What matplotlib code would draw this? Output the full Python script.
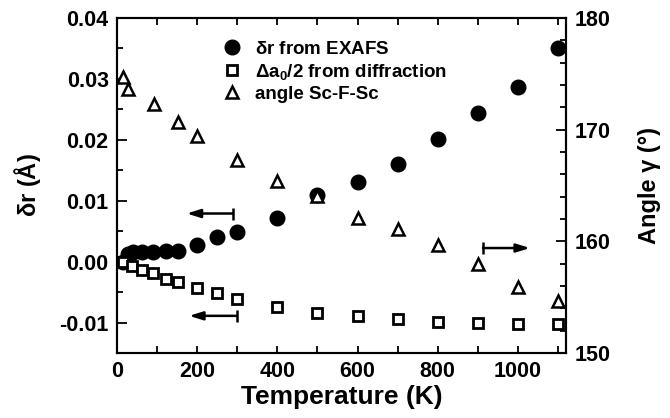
import matplotlib
matplotlib.use("Agg")
import matplotlib.pyplot as plt
from matplotlib.ticker import MultipleLocator, FormatStrFormatter
from matplotlib.lines import Line2D

plt.rcParams['font.family'] = ['Liberation Sans', 'DejaVu Sans']
plt.rcParams['font.weight'] = 'bold'
plt.rcParams['mathtext.fontset'] = 'custom'
plt.rcParams['mathtext.rm'] = 'Liberation Sans:bold'
plt.rcParams['mathtext.bf'] = 'Liberation Sans:bold'
plt.rcParams['mathtext.it'] = 'Liberation Sans:bold'
plt.rcParams['mathtext.default'] = 'rm'

# ---- data ----
T_exafs = [15, 27, 40, 62, 90, 122, 152, 200, 250, 300, 400, 500, 600, 700, 800, 900, 1000, 1100]
dr_exafs = [0.0000, 0.0013, 0.0015, 0.0015, 0.0016, 0.0017, 0.0018, 0.0028, 0.0041, 0.0048,
            0.0072, 0.0110, 0.0131, 0.0161, 0.0202, 0.0244, 0.0287, 0.0351]

T_diff = [15, 38, 62, 90, 122, 152, 200, 250, 300, 400, 500, 600, 700, 800, 900, 1000, 1100]
half_da = [0.0000, -0.0007, -0.0013, -0.0019, -0.0028, -0.0033, -0.0043, -0.0052, -0.0061,
           -0.0074, -0.0084, -0.0090, -0.0095, -0.0099, -0.0100, -0.0102, -0.0102]

T_angle = [15, 27, 92, 152, 200, 300, 400, 500, 600, 700, 800, 900, 1000, 1100]
angle = [174.7, 173.6, 172.3, 170.7, 169.4, 167.3, 165.4, 164.1, 162.1, 161.1, 159.7, 158.0, 155.9, 154.7]

labels = [r'$\delta$r from EXAFS', r'$\Delta$a$_0$/2 from diffraction', 'angle Sc-F-Sc']

fig = plt.figure(figsize=(6.7, 4.18), dpi=100)
ax = fig.add_axes([0.1746, 0.1555, 0.6702, 0.8015])
ax2 = ax.twinx()

ax.plot(T_exafs, dr_exafs, 'o', color='black', ms=10.5, zorder=3)
ax.plot(T_diff, half_da, 's', mfc='white', mec='black', ms=7.5, mew=2.0, zorder=3)
ax2.plot(T_angle, angle, '^', mfc='white', mec='black', ms=8.5, mew=1.8, zorder=3)

ax.set_xlim(0, 1120)
ax.set_ylim(-0.015, 0.04)
ax2.set_ylim(150, 180)

ax.xaxis.set_major_locator(MultipleLocator(200))
ax.xaxis.set_minor_locator(MultipleLocator(100))
ax.yaxis.set_major_locator(MultipleLocator(0.01))
ax.yaxis.set_minor_locator(MultipleLocator(0.005))
ax.yaxis.set_major_formatter(FormatStrFormatter('%.2f'))
ax2.yaxis.set_major_locator(MultipleLocator(10))
ax2.yaxis.set_minor_locator(MultipleLocator(2))

for a in (ax, ax2):
    for s in a.spines.values():
        s.set_linewidth(1.5)

ax.tick_params(axis='both', which='both', direction='in', width=1.3, labelsize=15.5, pad=6)
ax.tick_params(axis='y', which='both', right=False)
ax.tick_params(which='major', length=7)
ax.tick_params(which='minor', length=4)
ax2.tick_params(axis='y', which='both', direction='in', width=1.3, labelsize=15.5, pad=6)
ax2.tick_params(which='major', length=7)
ax2.tick_params(which='minor', length=4)
ax.tick_params(axis='x', which='both', top=True, length=5)

ax.set_xlabel('Temperature (K)', fontsize=19, fontweight='bold', labelpad=2)
ax.set_ylabel(r'$\delta$r (Å)', fontsize=17, fontweight='bold', labelpad=12)
ax2.set_ylabel('Angle γ (°)', fontsize=17, fontweight='bold', labelpad=20)

# arrows indicating axes
def axis_arrow(a, x_tail, x_head, y):
    a.annotate('', xy=(x_head, y), xytext=(x_tail, y),
               arrowprops=dict(arrowstyle='-|>,head_length=0.8,head_width=0.25',
                               color='black', lw=1.8, shrinkA=0, shrinkB=0))
    a.plot([x_tail], [y], marker='|', color='black', ms=8, mew=1.8)

axis_arrow(ax, 289, 174, 0.0079)
axis_arrow(ax, 299, 180, -0.0089)
axis_arrow(ax2, 913, 1030, 159.4)

handles = [
    Line2D([], [], ls='', marker='o', color='black', ms=10.5),
    Line2D([], [], ls='', marker='s', mfc='white', mec='black', ms=7.5, mew=2.0),
    Line2D([], [], ls='', marker='^', mfc='white', mec='black', ms=8.5, mew=1.8),
]
leg = ax.legend(handles, labels, loc='upper left', bbox_to_anchor=(0.215, 0.955),
                frameon=False, prop={'size': 13.5, 'weight': 'bold'},
                handletextpad=0.6, labelspacing=0.22, handlelength=1.2, borderaxespad=0)

fig.savefig('out.png', dpi=100)
